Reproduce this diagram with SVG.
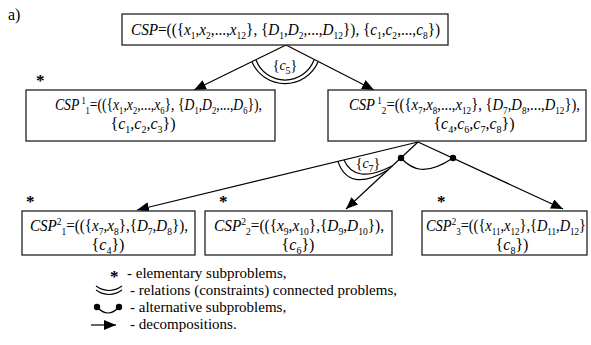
<svg xmlns="http://www.w3.org/2000/svg" width="591" height="345" viewBox="0 0 591 345">
  <style>
    text { font-family: 'Liberation Serif', 'Times New Roman', serif; font-size: 16px; fill: #000; }
    .i { font-style: italic; }
    .b { font-size: 10px; baseline-shift: -4px; }
    .p { font-size: 10px; baseline-shift: 6px; }
    .box { fill: #fff; stroke: #222; stroke-width: 1.3; }
    .ln { fill: none; stroke: #000; stroke-width: 1.2; }
    .lbl { font-size: 14px; }
    .ast { font-size: 17px; font-weight: bold; }
    .leg { font-size: 15px; }
  </style>
  <defs>
    <marker id="ah" viewBox="0 0 12 10" refX="12" refY="5" markerWidth="12" markerHeight="10" markerUnits="userSpaceOnUse" orient="auto">
      <path d="M0,0 L12,5 L0,10 z" fill="#000"/>
    </marker>
  </defs>

  <text x="8" y="20" font-size="15">a)</text>

  <!-- decomposition arrows, constraint arcs and alternative links -->
  <g id="connectors">
    <line class="ln" x1="286" y1="45" x2="194" y2="90" marker-end="url(#ah)"/>
    <line class="ln" x1="286" y1="45" x2="374" y2="90" marker-end="url(#ah)"/>
    <path class="ln" d="M256,60 A31,31 0 0 0 314,60"/>
    <path class="ln" d="M252,62 A36,36 0 0 0 318,62"/>
    <text class="lbl" x="285" y="70" text-anchor="middle">{<tspan class="i">c</tspan><tspan class="b">5</tspan>}</text>

    <line class="ln" x1="418" y1="142" x2="137" y2="210" marker-end="url(#ah)"/>
    <line class="ln" x1="418" y1="142" x2="346" y2="209" marker-end="url(#ah)"/>
    <line class="ln" x1="418" y1="142" x2="563" y2="209" marker-end="url(#ah)"/>
    <circle cx="401" cy="158" r="3.2" fill="#000"/>
    <circle cx="453" cy="158" r="3.2" fill="#000"/>
    <path class="ln" d="M401,158 C412,170 426,176 453,158"/>
    <path class="ln" d="M344,160 Q355,185 392,166"/>
    <path class="ln" d="M338,161.6 Q349,193 388,170"/>
    <text class="lbl" x="368" y="168" text-anchor="middle">{<tspan class="i">c</tspan><tspan class="b">7</tspan>}</text>
  </g>

  <g id="csp">
    <rect class="box" x="122" y="14" width="326" height="31"/>
    <text x="131" y="35" textLength="309" lengthAdjust="spacingAndGlyphs"><tspan class="i">CSP</tspan>=(({<tspan class="i">x</tspan><tspan class="b">1</tspan>,<tspan class="i">x</tspan><tspan class="b">2</tspan>,...,<tspan class="i">x</tspan><tspan class="b">12</tspan>}, {<tspan class="i">D</tspan><tspan class="b">1</tspan>,<tspan class="i">D</tspan><tspan class="b">2</tspan>,...,<tspan class="i">D</tspan><tspan class="b">12</tspan>}), {<tspan class="i">c</tspan><tspan class="b">1</tspan>,<tspan class="i">c</tspan><tspan class="b">2</tspan>,...,<tspan class="i">c</tspan><tspan class="b">8</tspan>})</text>
  </g>

  <g id="csp1-1">
    <text class="ast" x="36" y="86">*</text>
    <rect class="box" x="26" y="90" width="249" height="51"/>
    <text x="55" y="110" textLength="207" lengthAdjust="spacingAndGlyphs"><tspan class="i">CSP</tspan><tspan class="p"> 1</tspan><tspan class="b">1</tspan>=(({<tspan class="i">x</tspan><tspan class="b">1</tspan>,<tspan class="i">x</tspan><tspan class="b">2</tspan>,...,<tspan class="i">x</tspan><tspan class="b">6</tspan>}, {<tspan class="i">D</tspan><tspan class="b">1</tspan>,<tspan class="i">D</tspan><tspan class="b">2</tspan>,...,<tspan class="i">D</tspan><tspan class="b">6</tspan>}),</text>
    <text x="143" y="129" text-anchor="middle">{<tspan class="i">c</tspan><tspan class="b">1</tspan>,<tspan class="i">c</tspan><tspan class="b">2</tspan>,<tspan class="i">c</tspan><tspan class="b">3</tspan>})</text>
  </g>

  <g id="csp1-2">
    <rect class="box" x="328" y="90" width="258" height="51"/>
    <text x="349" y="110" textLength="231" lengthAdjust="spacingAndGlyphs"><tspan class="i">CSP</tspan><tspan class="p"> 1</tspan><tspan class="b">2</tspan>=(({<tspan class="i">x</tspan><tspan class="b">7</tspan>,<tspan class="i">x</tspan><tspan class="b">8</tspan>,...,<tspan class="i">x</tspan><tspan class="b">12</tspan>}, {<tspan class="i">D</tspan><tspan class="b">7</tspan>,<tspan class="i">D</tspan><tspan class="b">8</tspan>,...,<tspan class="i">D</tspan><tspan class="b">12</tspan>}),</text>
    <text x="474" y="129" text-anchor="middle">{<tspan class="i">c</tspan><tspan class="b">4</tspan>,<tspan class="i">c</tspan><tspan class="b">6</tspan>,<tspan class="i">c</tspan><tspan class="b">7</tspan>,<tspan class="i">c</tspan><tspan class="b">8</tspan>})</text>
  </g>

  <g id="csp2-1">
    <text class="ast" x="26" y="207">*</text>
    <rect class="box" x="22" y="211" width="173" height="44"/>
    <text x="30" y="231" textLength="158" lengthAdjust="spacingAndGlyphs"><tspan class="i">CSP</tspan><tspan class="p">2</tspan><tspan class="b">1</tspan>=(({<tspan class="i">x</tspan><tspan class="b">7</tspan>,<tspan class="i">x</tspan><tspan class="b">8</tspan>},{<tspan class="i">D</tspan><tspan class="b">7</tspan>,<tspan class="i">D</tspan><tspan class="b">8</tspan>}),</text>
    <text x="108" y="250" text-anchor="middle">{<tspan class="i">c</tspan><tspan class="b">4</tspan>})</text>
  </g>

  <g id="csp2-2">
    <text class="ast" x="219" y="207">*</text>
    <rect class="box" x="205" y="211" width="187" height="44"/>
    <text x="214" y="231" textLength="170" lengthAdjust="spacingAndGlyphs"><tspan class="i">CSP</tspan><tspan class="p">2</tspan><tspan class="b">2</tspan>=(({<tspan class="i">x</tspan><tspan class="b">9</tspan>,<tspan class="i">x</tspan><tspan class="b">10</tspan>},{<tspan class="i">D</tspan><tspan class="b">9</tspan>,<tspan class="i">D</tspan><tspan class="b">10</tspan>}),</text>
    <text x="298" y="250" text-anchor="middle">{<tspan class="i">c</tspan><tspan class="b">6</tspan>})</text>
  </g>

  <g id="csp2-3">
    <text class="ast" x="437" y="207">*</text>
    <rect class="box" x="422" y="211" width="165" height="44"/>
    <text x="426" y="231" textLength="160" lengthAdjust="spacingAndGlyphs"><tspan class="i">CSP</tspan><tspan class="p">2</tspan><tspan class="b">3</tspan>=(({<tspan class="i">x</tspan><tspan class="b">11</tspan>,<tspan class="i">x</tspan><tspan class="b">12</tspan>},{<tspan class="i">D</tspan><tspan class="b">11</tspan>,<tspan class="i">D</tspan><tspan class="b">12</tspan>}</text>
    <text x="512" y="250" text-anchor="middle">{<tspan class="i">c</tspan><tspan class="b">8</tspan>})</text>
  </g>

  <!-- legend -->
  <g id="legend">
    <text class="ast" x="110" y="282">*</text>
    <text class="leg" x="127" y="278">- elementary subproblems,</text>

    <path class="ln" d="M96,286 Q109,295 122,286"/>
    <path class="ln" d="M96,290 Q109,299 122,290"/>
    <text class="leg" x="130" y="295">- relations (constraints) connected problems,</text>

    <circle cx="97" cy="307" r="3.2" fill="#000"/>
    <circle cx="119" cy="307" r="3.2" fill="#000"/>
    <path class="ln" d="M97,307 Q108,319 119,307"/>
    <text class="leg" x="130" y="312">- alternative subproblems,</text>

    <line class="ln" x1="91" y1="325" x2="116" y2="325" marker-end="url(#ah)"/>
    <text class="leg" x="130" y="329">- decompositions.</text>
  </g>
</svg>
